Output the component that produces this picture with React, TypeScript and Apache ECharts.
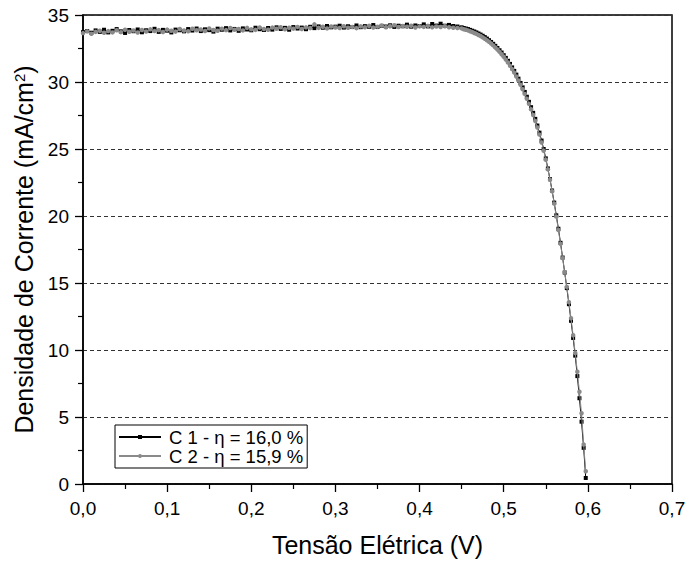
import React, { useEffect, useRef } from "react";
import * as echarts from "echarts";

const voltage = [
  0, 0.005, 0.01, 0.015, 0.02, 0.025, 0.03, 0.035, 0.04, 0.045,
  0.05, 0.055, 0.06, 0.065, 0.07, 0.075, 0.08, 0.085, 0.09, 0.095,
  0.1, 0.105, 0.11, 0.115, 0.12, 0.125, 0.13, 0.135, 0.14, 0.145,
  0.15, 0.155, 0.16, 0.165, 0.17, 0.175, 0.18, 0.185, 0.19, 0.195,
  0.2, 0.205, 0.21, 0.215, 0.22, 0.225, 0.23, 0.235, 0.24, 0.245,
  0.25, 0.255, 0.26, 0.265, 0.27, 0.275, 0.28, 0.285, 0.29, 0.295,
  0.3, 0.305, 0.31, 0.315, 0.32, 0.325, 0.33, 0.335, 0.34, 0.345,
  0.35, 0.355, 0.36, 0.365, 0.37, 0.375, 0.38, 0.385, 0.39, 0.395,
  0.4, 0.405, 0.41, 0.415, 0.42, 0.425, 0.43, 0.435, 0.44, 0.445,
  0.45, 0.4525, 0.455, 0.4575, 0.46, 0.4625, 0.465, 0.4675, 0.47, 0.4725,
  0.475, 0.4775, 0.48, 0.4825, 0.485, 0.4875, 0.49, 0.4925, 0.495, 0.4975,
  0.5, 0.5025, 0.505, 0.5075, 0.51, 0.5125, 0.515, 0.5175, 0.52, 0.5225,
  0.525, 0.5275, 0.53, 0.5325, 0.535, 0.5375, 0.54, 0.5425, 0.545, 0.5475,
  0.55, 0.5525, 0.555, 0.5575, 0.56, 0.5625, 0.565, 0.5675, 0.57, 0.5725,
  0.575, 0.5775, 0.58, 0.5825, 0.585, 0.5875, 0.59, 0.5925, 0.595, 0.5975,
];

const currentC1 = [
  33.72, 33.8, 33.68, 33.85, 33.74, 33.9, 33.7, 33.82, 33.95, 33.78,
  33.66, 33.88, 33.79, 33.92, 33.71, 33.86, 33.8, 33.97, 33.74, 33.89,
  33.83, 33.7, 33.91, 33.86, 33.78, 33.95, 33.84, 33.99, 33.8, 33.93,
  33.87, 33.76, 33.98, 33.9, 34.02, 33.85, 33.96, 33.82, 34.0, 33.92,
  33.86, 34.05, 33.94, 33.88, 34.03, 33.91, 34.08, 33.96, 34.04, 33.9,
  34.1, 33.99, 34.06, 33.94, 34.12, 34.02, 34.15, 34.05, 34.18, 34.08,
  34.13, 34.2, 34.06, 34.16, 34.1, 34.22, 34.09, 34.17, 34.12, 34.25,
  34.1, 34.19, 34.14, 34.23, 34.11, 34.2, 34.16, 34.28, 34.13, 34.22,
  34.18, 34.3, 34.15, 34.33, 34.21, 34.35, 34.2, 34.26, 34.18, 34.14,
  34.08, 34.03, 33.99, 33.95, 33.89, 33.83, 33.77, 33.7, 33.62, 33.54,
  33.45, 33.35, 33.24, 33.12, 32.99, 32.85, 32.7, 32.54, 32.37, 32.2,
  32.0, 31.8, 31.58, 31.35, 31.09, 30.83, 30.55, 30.25, 29.93, 29.6,
  29.26, 28.9, 28.52, 28.12, 27.7, 27.25, 26.75, 26.22, 25.63, 25.0,
  24.3, 23.55, 22.75, 21.9, 21.0, 20.05, 19.05, 18.0, 16.9, 15.78,
  14.62, 13.42, 12.18, 10.9, 9.58, 8.05, 6.4, 4.65, 2.7, 0.45,
];

const currentC2 = [
  33.65, 33.78, 33.6, 33.74, 33.83, 33.67, 33.8, 33.7, 33.86, 33.72,
  33.9, 33.75, 33.84, 33.69, 33.88, 33.77, 33.93, 33.8, 33.87, 33.73,
  33.91, 33.82, 33.76, 33.95, 33.84, 33.79, 33.97, 33.86, 33.92, 33.81,
  34.0, 33.88, 33.83, 33.98, 33.87, 34.03, 33.9, 33.96, 33.85, 34.04,
  33.93, 33.89, 34.07, 33.95, 33.9, 34.06, 33.97, 34.09, 33.94, 34.05,
  33.98, 34.11, 33.96, 34.08, 34.02, 34.3, 34.04, 34.12, 34.0, 34.14,
  34.07, 34.03, 34.16, 34.05, 34.11, 34.02, 34.15, 34.08, 34.19, 34.06,
  34.13, 34.21, 34.09, 34.16, 34.24, 34.1, 34.18, 34.12, 34.2, 34.07,
  34.15, 34.11, 34.19, 34.08, 34.14, 34.1, 34.16, 34.09, 34.05, 34.03,
  34.0, 33.94, 33.9, 33.85, 33.79, 33.73, 33.66, 33.59, 33.51, 33.43,
  33.33, 33.23, 33.12, 33.0, 32.87, 32.73, 32.58, 32.42, 32.25, 32.07,
  31.88, 31.67, 31.45, 31.21, 30.96, 30.7, 30.41, 30.11, 29.79, 29.46,
  29.11, 28.75, 28.37, 27.97, 27.54, 27.09, 26.6, 26.07, 25.49, 24.87,
  24.2, 23.48, 22.7, 21.85, 20.92, 19.95, 18.95, 17.92, 16.86, 15.8,
  14.71, 13.57, 12.37, 11.1, 9.78, 8.38, 6.88, 5.28, 2.95, 0.95,
];

const seriesNames = ["C 1 - η = 16,0 %", "C 2 - η = 15,9 %"];
const xTicks = { min: 0, max: 0.7, interval: 0.1 };
const yTicks = { min: 0, max: 35, interval: 5 };

const FONT = 'Arial, "Liberation Sans", sans-serif';

function zip(xs: number[], ys: number[]) {
  const n = Math.min(xs.length, ys.length);
  const out: number[][] = [];
  for (let i = 0; i < n; i++) out.push([xs[i], ys[i]]);
  return out;
}

export default function App() {
  const ref = useRef<HTMLDivElement>(null);
  useEffect(() => {
    if (!ref.current) return;
    const chart = echarts.init(ref.current, undefined, { renderer: "svg" });
    const axisCommon = {
      axisLine: { show: true, lineStyle: { color: "#000", width: 1.5 } },
      axisTick: { show: true, inside: false, length: 8, lineStyle: { color: "#000", width: 1.3 } },
      minorTick: { show: true, splitNumber: 2, length: 5, lineStyle: { color: "#000", width: 1.2 } },
      axisLabel: { color: "#000", fontSize: 19, fontFamily: FONT },
      nameTextStyle: { color: "#000", fontSize: 25, fontFamily: FONT },
    };
    chart.setOption({
      animation: false,
      backgroundColor: "#fff",
      grid: {
        left: 83, right: 17, top: 15, bottom: 77,
        show: true, borderColor: "#000", borderWidth: 1.5, backgroundColor: "transparent",
      },
      legend: {
        show: true,
        orient: "vertical",
        left: 115,
        top: 425,
        data: seriesNames,
        itemWidth: 42,
        itemHeight: 5,
        itemGap: 0,
        padding: [2.5, 4, 2.5, 3],
        borderColor: "#000",
        borderWidth: 1,
        textStyle: { color: "#000", fontSize: 18.5, lineHeight: 19, fontFamily: FONT, padding: [0, 0, 0, 3] },
      },
      xAxis: {
        type: "value",
        min: xTicks.min,
        max: xTicks.max,
        interval: xTicks.interval,
        name: "Tensão Elétrica (V)",
        nameLocation: "middle",
        nameGap: 48,
        splitLine: { show: false },
        ...axisCommon,
        axisLabel: {
          ...axisCommon.axisLabel,
          margin: 15,
          formatter: (v: number) => v.toFixed(1).replace(".", ","),
        },
      },
      yAxis: {
        type: "value",
        min: yTicks.min,
        max: yTicks.max,
        interval: yTicks.interval,
        name: "Densidade de Corrente (mA/cm{sup|2})",
        nameLocation: "middle",
        nameGap: 44,
        splitLine: { show: true, lineStyle: { color: "#333", width: 1, type: [4, 3] } },
        ...axisCommon,
        nameTextStyle: {
          ...axisCommon.nameTextStyle,
          rich: {
            sup: { fontSize: 15, fontFamily: FONT, color: "#000", verticalAlign: "top", padding: [0, 0, 10, 0] },
          },
        },
        axisLabel: { ...axisCommon.axisLabel, margin: 14 },
      },
      series: [
        {
          name: seriesNames[0],
          type: "line",
          data: zip(voltage, currentC1),
          symbol: "rect",
          symbolSize: 4,
          showSymbol: true,
          lineStyle: { color: "#000", width: 1 },
          itemStyle: { color: "#000" },
          z: 2,
        },
        {
          name: seriesNames[1],
          type: "line",
          data: zip(voltage, currentC2),
          symbol: "circle",
          symbolSize: 4.5,
          showSymbol: true,
          lineStyle: { color: "#8a8a8a", width: 1 },
          itemStyle: { color: "#8a8a8a" },
          z: 3,
        },
      ],
    });
    return () => chart.dispose();
  }, []);
  return <div ref={ref} style={{ width: 689, height: 562, position: "absolute", left: 0, top: 0 }} />;
}
